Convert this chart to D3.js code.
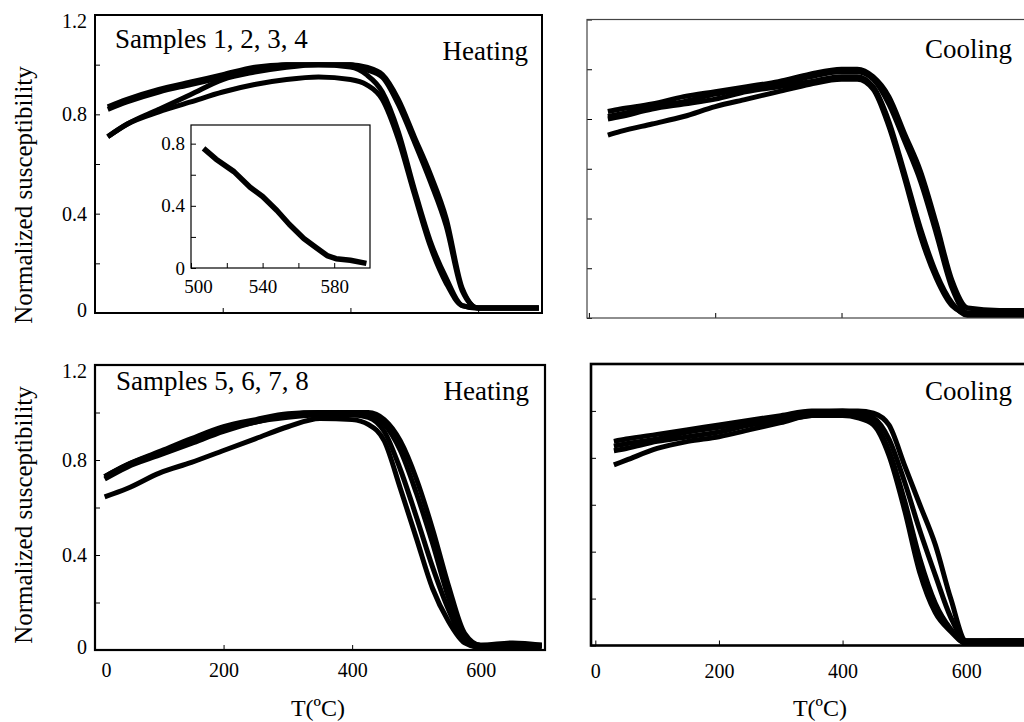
<!DOCTYPE html>
<html>
<head>
<meta charset="utf-8">
<script src="https://cdn.jsdelivr.net/npm/d3@7"></script>
<style>
  body { margin: 0; background: #fff; }
  svg { display: block; }
  text { font-family: "Liberation Serif", "Times New Roman", serif; fill: #000; }
</style>
</head>
<body>
<script>
// temperature grids (deg C)
const tHeatTop = [20, 50, 100, 150, 200, 250, 300, 350, 400, 425, 450, 475, 500, 525, 550, 575, 600, 650, 695];
const tCoolTop = [30, 50, 100, 150, 200, 250, 300, 350, 400, 425, 450, 475, 500, 525, 550, 575, 600, 650, 700];
const tHeatBot = [15, 50, 100, 150, 200, 250, 300, 350, 400, 425, 450, 475, 500, 525, 550, 575, 600, 650, 695];
const tCoolBot = [30, 50, 100, 150, 200, 250, 300, 350, 400, 425, 450, 475, 500, 525, 550, 575, 600, 650, 700];

// samples 1-4, heating
const heat1 = [0.71, 0.76, 0.82, 0.88, 0.94, 0.97, 0.99, 1.00, 1.00, 0.99, 0.96, 0.86, 0.71, 0.56, 0.38, 0.10, 0.02, 0.02, 0.02];
const heat2 = [0.83, 0.86, 0.90, 0.93, 0.96, 0.99, 1.00, 1.00, 0.99, 0.96, 0.89, 0.73, 0.50, 0.29, 0.14, 0.03, 0.02, 0.02, 0.02];
const heat3 = [0.82, 0.85, 0.89, 0.92, 0.95, 0.98, 1.00, 1.00, 1.00, 0.98, 0.95, 0.84, 0.69, 0.53, 0.35, 0.09, 0.02, 0.02, 0.02];
const heat4 = [0.71, 0.76, 0.81, 0.85, 0.89, 0.92, 0.94, 0.95, 0.94, 0.92, 0.86, 0.70, 0.48, 0.27, 0.12, 0.03, 0.02, 0.02, 0.02];

// samples 1-4, cooling
const cool1 = [0.83, 0.84, 0.86, 0.89, 0.91, 0.93, 0.95, 0.98, 1.00, 1.00, 0.97, 0.89, 0.74, 0.59, 0.38, 0.15, 0.04, 0.03, 0.03];
const cool2 = [0.81, 0.82, 0.85, 0.87, 0.90, 0.92, 0.94, 0.97, 0.99, 0.99, 0.96, 0.86, 0.71, 0.55, 0.34, 0.12, 0.02, 0.02, 0.02];
const cool3 = [0.80, 0.81, 0.84, 0.86, 0.88, 0.91, 0.93, 0.95, 0.97, 0.97, 0.93, 0.79, 0.58, 0.36, 0.18, 0.06, 0.01, 0.01, 0.01];
const cool4 = [0.735, 0.75, 0.78, 0.81, 0.85, 0.88, 0.91, 0.94, 0.96, 0.96, 0.92, 0.77, 0.56, 0.33, 0.16, 0.05, 0.02, 0.02, 0.02];

// samples 5-8, heating
const heat5 = [0.73, 0.78, 0.835, 0.89, 0.94, 0.97, 0.995, 1.00, 1.00, 1.00, 0.97, 0.88, 0.72, 0.51, 0.27, 0.07, 0.02, 0.03, 0.02];
const heat6 = [0.73, 0.78, 0.83, 0.88, 0.93, 0.96, 0.99, 1.00, 1.00, 0.99, 0.95, 0.84, 0.66, 0.45, 0.22, 0.05, 0.02, 0.02, 0.02];
const heat7 = [0.72, 0.77, 0.82, 0.87, 0.92, 0.96, 0.98, 0.99, 0.99, 0.98, 0.92, 0.76, 0.56, 0.35, 0.17, 0.04, 0.01, 0.02, 0.02];
const heat8 = [0.645, 0.68, 0.745, 0.79, 0.84, 0.89, 0.94, 0.975, 0.97, 0.95, 0.88, 0.68, 0.47, 0.26, 0.12, 0.03, 0.01, 0.01, 0.01];

// samples 5-8, cooling
const cool5 = [0.87, 0.88, 0.90, 0.92, 0.94, 0.96, 0.98, 1.00, 1.00, 1.00, 0.99, 0.94, 0.77, 0.60, 0.43, 0.20, 0.02, 0.02, 0.02];
const cool6 = [0.85, 0.86, 0.88, 0.91, 0.93, 0.95, 0.97, 0.99, 1.00, 0.99, 0.97, 0.88, 0.70, 0.49, 0.30, 0.12, 0.02, 0.02, 0.02];
const cool7 = [0.83, 0.84, 0.87, 0.89, 0.91, 0.94, 0.96, 0.98, 0.99, 0.98, 0.95, 0.83, 0.62, 0.37, 0.18, 0.07, 0.01, 0.02, 0.02];
const cool8 = [0.77, 0.79, 0.84, 0.87, 0.89, 0.92, 0.95, 0.98, 0.98, 0.97, 0.94, 0.81, 0.58, 0.31, 0.14, 0.06, 0.01, 0.01, 0.01];

// inset (500-600 deg C detail)
const tInset = [507, 514, 524, 533, 540, 548, 555, 563, 570, 576, 581, 589, 598];
const inset = [0.77, 0.70, 0.62, 0.52, 0.46, 0.37, 0.28, 0.19, 0.13, 0.08, 0.06, 0.05, 0.03];

// ticks
const yTicks = [0, 0.2, 0.4, 0.6, 0.8, 1.0, 1.2];
const yTickLabels = [0, 0.4, 0.8, 1.2];
const xTicks = [0, 200, 400, 600];
const insetYTicks = [0, 0.2, 0.4, 0.6, 0.8];
const insetYLabels = [0, 0.4, 0.8];
const insetXTicks = [500, 520, 540, 560, 580];
const insetXLabels = [500, 540, 580];

const serif = '"Liberation Serif", "Times New Roman", serif';
const width = 1024, height = 722;
const svg = d3.select('body').append('svg')
  .attr('width', width)
  .attr('height', height);

const fmt = d => d === 0 ? '0' : d3.format('.1f')(d);

function styleTicks(g, size) {
  g.selectAll('.tick line').attr('stroke', '#000');
  g.selectAll('.tick text')
    .style('font-family', serif)
    .style('font-size', size + 'px')
    .attr('fill', '#000');
}

function drawPanel(p) {
  let x = d3.scaleLinear().domain(p.xDomain).range(p.xRange);
  let y = d3.scaleLinear().domain([0, 1.2]).range(p.yRange);
  let g = svg.append('g');

  // y axis (ticks inside)
  let ya = g.append('g')
    .attr('transform', `translate(${p.xRange[0]},0)`)
    .call(d3.axisLeft(y).tickValues(yTicks).tickSize(-5).tickPadding(8)
      .tickFormat(d => p.yLabels && yTickLabels.includes(d) ? fmt(d) : ''));
  ya.select('.domain').remove();
  ya.selectAll('text').filter(d => d === 1.2).attr('dy', '0.62em');
  ya.selectAll('text').filter(d => d === 0).attr('dy', '0.16em');

  // x axis (ticks inside)
  let xa = g.append('g')
    .attr('transform', `translate(0,${p.yRange[0]})`)
    .call(d3.axisBottom(x).tickValues(xTicks).tickSize(-5).tickPadding(p.xPad)
      .tickFormat(d => p.xLabels ? d : ''));
  xa.select('.domain').remove();
  if (p.zeroShift) xa.selectAll('text').filter(d => d === 0).attr('dx', p.zeroShift);

  styleTicks(g, 20);

  // curves
  let clipId = 'clip-' + p.name;
  svg.append('clipPath').attr('id', clipId)
    .append('rect')
    .attr('x', p.xRange[0]).attr('y', p.yRange[1] - 4)
    .attr('width', p.xRange[1] - p.xRange[0] + 4)
    .attr('height', p.yRange[0] - p.yRange[1] + 4);

  let line = d3.line()
    .x(d => x(d[0]))
    .y(d => y(d[1]))
    .curve(d3.curveMonotoneX);

  g.append('g').attr('clip-path', `url(#${clipId})`)
    .selectAll('path')
    .data(p.series)
    .enter()
    .append('path')
    .attr('d', s => line(p.temps.map((t, i) => [t, s[i]])))
    .attr('fill', 'none')
    .attr('stroke', '#000')
    .attr('stroke-width', 5)
    .attr('stroke-linejoin', 'round');

  // frame
  g.append('rect')
    .attr('x', p.xRange[0])
    .attr('y', p.yRange[1])
    .attr('width', p.xRange[1] - p.xRange[0])
    .attr('height', p.yRange[0] - p.yRange[1])
    .attr('fill', 'none')
    .attr('stroke', p.frameColor)
    .attr('stroke-width', p.frameW);

  return { x, y, g };
}

drawPanel({ name: 'tl', xDomain: [0, 700], xRange: [95, 542], yRange: [313, 15],
  yLabels: true, xLabels: false, xPad: 14, frameW: 2, frameColor: '#000',
  temps: tHeatTop, series: [heat1, heat2, heat3, heat4] });

drawPanel({ name: 'tr', xDomain: [-3, 700], xRange: [587, 1031], yRange: [318, 19.5],
  yLabels: false, xLabels: false, xPad: 14, frameW: 1.2, frameColor: '#444',
  temps: tCoolTop, series: [cool1, cool2, cool3, cool4] });

drawPanel({ name: 'bl', xDomain: [0, 700], xRange: [95, 545], yRange: [650, 365],
  yLabels: true, xLabels: true, xPad: 13, zeroShift: 11, frameW: 2.2, frameColor: '#000',
  temps: tHeatBot, series: [heat5, heat6, heat7, heat8] });

drawPanel({ name: 'br', xDomain: [-7, 700], xRange: [591, 1028], yRange: [645.5, 364],
  yLabels: false, xLabels: true, xPad: 18, frameW: 2.6, frameColor: '#000',
  temps: tCoolBot, series: [cool5, cool6, cool7, cool8] });

// inset
let ix = d3.scaleLinear().domain([500, 600]).range([191, 370]);
let iy = d3.scaleLinear().domain([0, 0.92]).range([268, 125]);
let ig = svg.append('g');
ig.append('rect')
  .attr('x', 191).attr('y', 125).attr('width', 179).attr('height', 143)
  .attr('fill', '#fff').attr('stroke', '#000').attr('stroke-width', 1.2);
let iya = ig.append('g').attr('transform', 'translate(191,0)')
  .call(d3.axisLeft(iy).tickValues(insetYTicks).tickSize(-5).tickPadding(6)
    .tickFormat(d => insetYLabels.includes(d) ? fmt(d) : ''));
iya.select('.domain').remove();
let ixa = ig.append('g').attr('transform', 'translate(0,268)')
  .call(d3.axisBottom(ix).tickValues(insetXTicks).tickSize(-5).tickPadding(12)
    .tickFormat(d => insetXLabels.includes(d) ? d : ''));
ixa.select('.domain').remove();
ixa.selectAll('text').filter(d => d === 500).attr('dx', 7);
styleTicks(ig, 19);
ig.append('path')
  .attr('d', d3.line().x((d, i) => ix(tInset[i])).y(d => iy(d))(inset))
  .attr('fill', 'none').attr('stroke', '#000').attr('stroke-width', 5.5)
  .attr('stroke-linejoin', 'round');

// panel texts
const txt = (x, y, s, anchor, size) => svg.append('text')
  .attr('x', x).attr('y', y).attr('text-anchor', anchor)
  .style('font-family', serif)
  .style('font-size', size + 'px').text(s);

txt(115, 48, 'Samples 1, 2, 3, 4', 'start', 27);
txt(528, 60, 'Heating', 'end', 27);
txt(1012, 58, 'Cooling', 'end', 27);
txt(116, 390, 'Samples 5, 6, 7, 8', 'start', 27);
txt(529, 400, 'Heating', 'end', 27);
txt(1012, 400, 'Cooling', 'end', 27);

txt(318, 716, 'T(ºC)', 'middle', 24);
txt(820, 716, 'T(ºC)', 'middle', 24);

svg.append('text').attr('transform', 'translate(32,195) rotate(-90)')
  .attr('text-anchor', 'middle').style('font-family', serif)
  .style('font-size', '25px').text('Normalized susceptibility');
svg.append('text').attr('transform', 'translate(32,515) rotate(-90)')
  .attr('text-anchor', 'middle').style('font-family', serif)
  .style('font-size', '25px').text('Normalized susceptibility');
</script>
</body>
</html>
